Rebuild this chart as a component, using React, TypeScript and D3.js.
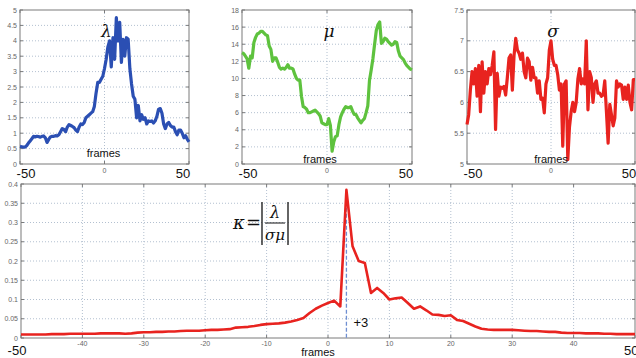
import { useRef, useEffect } from "react";
import * as d3 from "d3";

// frames -50..50
const frames = d3.range(-50, 51);

const lambdaValues = [
  0.57, 0.56, 0.55, 0.55, 0.6, 0.68, 0.75, 0.82, 0.9, 0.88, 0.9, 0.89, 0.87, 0.9, 0.91, 0.85, 0.7, 0.8, 0.88, 0.9,
  0.9, 0.92, 0.91, 0.95, 1.05, 1.15, 1.12, 1.05, 1.2, 1.28, 1.25, 1.22, 1.18, 1.1, 1.05, 1.2, 1.3, 1.28, 1.35, 1.5,
  1.55, 1.6, 1.65, 1.7, 1.87, 2.3, 2.65, 2.65, 2.75, 2.85, 3.1, 3.4, 3.8, 4.0, 3.15, 4.1, 3.4, 4.75, 4.0, 4.6,
  3.3, 4.05, 3.5, 4.1, 4.05, 3.1, 2.6, 2.2, 2.1, 1.5, 1.9, 1.4, 1.6, 1.45, 1.5, 1.3, 1.4, 1.38, 1.4, 1.33,
  1.4, 1.55, 1.78, 1.8, 1.65, 1.3, 1.15, 1.3, 1.35, 1.25, 1.2, 1.2, 1.05, 0.95, 1.1, 1.1, 1.0, 0.85, 0.92, 0.8, 0.72,
];

const muValues = [
  13.0, 12.9, 12.6, 12.3, 11.2, 12.6, 12.4, 14.2, 14.8, 15.2, 15.3, 15.5, 15.5, 15.3, 15.1, 15.0, 13.8, 13.4, 12.0, 12.4,
  12.4, 11.9, 11.3, 11.1, 11.2, 11.1, 11.3, 11.6, 11.2, 11.2, 11.1, 10.5, 10.0, 9.8, 9.8, 7.9, 6.7, 6.6, 6.4, 6.0,
  6.0, 6.1, 6.2, 6.3, 6.1, 5.9, 5.6, 4.8, 4.7, 4.6, 4.6, 5.3, 4.5, 1.5, 2.6, 3.2, 3.3, 4.6, 5.5, 6.0,
  6.4, 6.7, 6.6, 6.6, 6.7, 6.2, 5.8, 5.8, 5.4, 5.1, 4.8, 5.1, 5.3, 6.0, 6.8, 9.8, 11.0, 12.3, 14.0, 15.6,
  16.3, 16.6, 14.1, 14.3, 14.7, 14.6, 14.3, 14.1, 13.9, 14.0, 14.3, 14.2, 13.2, 12.6, 12.4, 12.2, 11.8, 11.5, 11.3, 11.1, 11.0,
];

const sigmaValues = [
  5.64, 5.8, 6.2, 6.5, 6.3, 6.55, 6.1, 6.6, 5.85, 6.66, 6.15, 6.5, 6.3, 6.55, 6.45, 6.6, 6.82, 5.56, 6.47, 6.1,
  6.25, 6.23, 6.26, 6.12, 6.4, 6.72, 6.77, 6.2, 6.76, 7.04, 6.85, 6.8, 6.7, 6.8, 6.5, 6.4, 6.72, 6.66, 6.36, 6.57,
  6.4, 6.4, 6.15, 6.35, 6.05, 6.07, 5.83, 6.3, 6.4, 6.85, 7.0, 6.7, 6.6, 6.6, 6.45, 6.2, 6.3, 5.29, 6.3, 6.35,
  5.07, 5.6, 5.85, 6.0, 5.85, 6.0, 6.38, 6.55, 6.3, 6.38, 6.3, 7.0, 5.88, 6.5, 6.4, 6.0, 6.3, 6.35, 6.15, 6.15,
  6.1, 6.12, 6.35, 5.85, 5.34, 5.97, 5.8, 5.62, 5.75, 6.35, 6.25, 6.3, 6.28, 6.05, 6.25, 6.05, 6.28, 6.0, 5.88, 6.37, 6.37,
];

const kappaValues = [
  0.009, 0.009, 0.009, 0.009, 0.009, 0.01, 0.01, 0.01, 0.011, 0.011, 0.011, 0.011, 0.011, 0.012, 0.012, 0.012, 0.012, 0.011, 0.012, 0.014,
  0.015, 0.015, 0.016, 0.016, 0.017, 0.017, 0.018, 0.019, 0.019, 0.019, 0.02, 0.021, 0.021, 0.022, 0.023, 0.027, 0.028, 0.029, 0.031, 0.034,
  0.036, 0.037, 0.038, 0.04, 0.043, 0.047, 0.052, 0.065, 0.076, 0.084, 0.091, 0.097, 0.082, 0.385, 0.238, 0.2, 0.195, 0.117, 0.13, 0.117,
  0.1, 0.103, 0.105, 0.091, 0.076, 0.082, 0.072, 0.061, 0.06, 0.057, 0.059, 0.047, 0.044, 0.037, 0.03, 0.024, 0.022, 0.021, 0.021, 0.021,
  0.021, 0.02, 0.019, 0.018, 0.018, 0.017, 0.016, 0.016, 0.014, 0.013, 0.013, 0.013, 0.012, 0.012, 0.012, 0.011, 0.011, 0.01, 0.01, 0.01, 0.01,
];

const peakFrame = 3;

const panels = [
  { values: lambdaValues, yDomain: [0, 5], yStep: 0.5, color: "#2b4fb3", symbol: "λ", left: 20, right: 189, top: 10, bottom: 164, framesDx: -1, framesY: 157 },
  { values: muValues, yDomain: [0, 18], yStep: 2, color: "#5ec23e", symbol: "μ", left: 242, right: 412, top: 10, bottom: 164, framesDx: -7, framesY: 163 },
  { values: sigmaValues, yDomain: [5, 7.5], yStep: 0.5, color: "#e8231f", symbol: "σ", left: 467, right: 635, top: 10, bottom: 164, framesDx: 0, framesY: 163 },
];

const W = 636;
const H = 358;

export default function App() {
  const svgRef = useRef<SVGSVGElement>(null);

  useEffect(() => {
    const svg = d3.select(svgRef.current);
    svg.selectAll("*").remove();

    svg.append("rect").attr("width", W).attr("height", H).attr("fill", "#fff");

    const gridColor = "#9fb0c4";
    const axisColor = "#7a7a7a";
    const tickColor = "#666";
    const sans = "Arial, 'Liberation Sans', sans-serif";
    const serif = "'DejaVu Serif', 'Liberation Serif', serif";

    const drawFrame = (
      x: d3.ScaleLinear<number, number>,
      y: d3.ScaleLinear<number, number>,
      xTicks: number[],
      yTicks: number[]
    ) => {
      const [l, r] = x.range();
      const [b, t] = y.range();
      const g = svg.append("g");
      // grid
      g.selectAll(".gx")
        .data(xTicks.filter(v => x(v) > l + 1 && x(v) < r - 1))
        .enter()
        .append("line")
        .attr("x1", d => x(d)).attr("x2", d => x(d))
        .attr("y1", t).attr("y2", b)
        .attr("stroke", gridColor).attr("stroke-width", 0.8)
        .attr("stroke-dasharray", "1,2");
      g.selectAll(".gy")
        .data(yTicks.filter(v => y(v) > t + 1 && y(v) < b - 1))
        .enter()
        .append("line")
        .attr("x1", l).attr("x2", r)
        .attr("y1", d => y(d)).attr("y2", d => y(d))
        .attr("stroke", gridColor).attr("stroke-width", 0.8)
        .attr("stroke-dasharray", "1,2");
      // box
      g.append("rect")
        .attr("x", l).attr("y", t).attr("width", r - l).attr("height", b - t)
        .attr("fill", "none").attr("stroke", axisColor).attr("stroke-width", 1);
      // inward ticks
      xTicks.forEach(v => {
        g.append("line").attr("x1", x(v)).attr("x2", x(v)).attr("y1", b).attr("y2", b - 3).attr("stroke", axisColor);
        g.append("line").attr("x1", x(v)).attr("x2", x(v)).attr("y1", t).attr("y2", t + 3).attr("stroke", axisColor);
      });
      yTicks.forEach(v => {
        g.append("line").attr("x1", l).attr("x2", l + 3).attr("y1", y(v)).attr("y2", y(v)).attr("stroke", axisColor);
        g.append("line").attr("x1", r).attr("x2", r - 3).attr("y1", y(v)).attr("y2", y(v)).attr("stroke", axisColor);
      });
      // y tick labels
      g.selectAll(".yl")
        .data(yTicks)
        .enter()
        .append("text")
        .attr("x", l - 3)
        .attr("y", d => y(d) + 2.5)
        .attr("text-anchor", "end")
        .style("font-family", sans)
        .style("font-size", "7px")
        .style("fill", tickColor)
        .text(d => String(d));
      return g;
    };

    // Top panels
    panels.forEach(p => {
      const x = d3.scaleLinear().domain([-50, 50]).range([p.left, p.right]);
      const y = d3.scaleLinear().domain(p.yDomain).range([p.bottom, p.top]);
      const yTicks = d3.range(p.yDomain[0], p.yDomain[1] + p.yStep / 2, p.yStep).map(v => +v.toFixed(2));
      const g = drawFrame(x, y, [-50, 0, 50], yTicks);

      g.append("text")
        .attr("x", x(0)).attr("y", p.bottom + 9)
        .attr("text-anchor", "middle")
        .style("font-family", sans).style("font-size", "7px").style("fill", tickColor)
        .text("0");

      g.append("path")
        .datum(p.values.map((v, i) => [frames[i], v] as [number, number]))
        .attr("fill", "none")
        .attr("stroke", p.color)
        .attr("stroke-width", 3.2)
        .attr("stroke-linejoin", "round")
        .attr("d", d3.line<[number, number]>().x(d => x(d[0])).y(d => y(d[1])));

      g.append("text")
        .attr("x", x(0) + 2).attr("y", p.top + 27)
        .attr("text-anchor", "middle")
        .style("font-family", serif)
        .style("font-style", "italic")
        .style("font-size", "17px")
        .style("fill", "#111")
        .text(p.symbol);

      g.append("text")
        .attr("x", x(0) + p.framesDx).attr("y", p.framesY)
        .attr("text-anchor", "middle")
        .style("font-family", sans).style("font-size", "11px").style("fill", "#111")
        .text("frames");

      g.append("text")
        .attr("x", x(-50) + 6).attr("y", p.bottom + 14)
        .attr("text-anchor", "middle")
        .style("font-family", sans).style("font-size", "13px").style("fill", "#111")
        .text("-50");
      g.append("text")
        .attr("x", x(50) - 6).attr("y", p.bottom + 14)
        .attr("text-anchor", "middle")
        .style("font-family", sans).style("font-size", "13px").style("fill", "#111")
        .text("50");
    });

    // Bottom panel
    const bx = d3.scaleLinear().domain([-50, 50]).range([21, 635]);
    const by = d3.scaleLinear().domain([0, 0.4]).range([338, 184]);
    const bxTicks = d3.range(-50, 51, 10);
    const byTicks = d3.range(0, 0.401, 0.05).map(v => +v.toFixed(2));
    const bg = drawFrame(bx, by, bxTicks, byTicks);

    bg.selectAll(".xl")
      .data(bxTicks.filter(v => v > -50 && v < 50))
      .enter()
      .append("text")
      .attr("x", d => bx(d)).attr("y", 346)
      .attr("text-anchor", "middle")
      .style("font-family", sans).style("font-size", "7px").style("fill", tickColor)
      .text(d => String(d));

    bg.append("line")
      .attr("x1", bx(peakFrame)).attr("x2", bx(peakFrame))
      .attr("y1", by(kappaValues[frames.indexOf(peakFrame)])).attr("y2", by(0))
      .attr("stroke", "#6f8fd2").attr("stroke-width", 1.3)
      .attr("stroke-dasharray", "4,2");

    bg.append("path")
      .datum(kappaValues.map((v, i) => [frames[i], v] as [number, number]))
      .attr("fill", "none")
      .attr("stroke", "#e8231f")
      .attr("stroke-width", 2.6)
      .attr("stroke-linejoin", "round")
      .attr("d", d3.line<[number, number]>().x(d => bx(d[0])).y(d => by(d[1])));

    bg.append("text")
      .attr("x", bx(peakFrame) + 7).attr("y", 327)
      .style("font-family", sans).style("font-size", "13px").style("fill", "#111")
      .text("+3");

    bg.append("text")
      .attr("x", 318).attr("y", 356)
      .attr("text-anchor", "middle")
      .style("font-family", sans).style("font-size", "11px").style("fill", "#111")
      .text("frames");
    bg.append("text")
      .attr("x", 17).attr("y", 355)
      .attr("text-anchor", "middle")
      .style("font-family", sans).style("font-size", "13px").style("fill", "#111")
      .text("-50");
    bg.append("text")
      .attr("x", 624).attr("y", 355)
      .attr("text-anchor", "start")
      .style("font-family", sans).style("font-size", "13px").style("fill", "#111")
      .text("50");

    // formula kappa = |lambda / (sigma mu)|
    const f = bg.append("g");
    f.append("text")
      .attr("x", 233).attr("y", 229)
      .style("font-family", serif).style("font-style", "italic").style("font-size", "18px").style("fill", "#111")
      .text("κ");
    f.append("text")
      .attr("x", 246).attr("y", 229)
      .style("font-family", serif).style("font-size", "18px").style("fill", "#111")
      .text("=");
    f.append("line").attr("x1", 262).attr("x2", 262).attr("y1", 202).attr("y2", 245).attr("stroke", "#111").attr("stroke-width", 1.3);
    f.append("line").attr("x1", 288).attr("x2", 288).attr("y1", 202).attr("y2", 245).attr("stroke", "#111").attr("stroke-width", 1.3);
    f.append("line").attr("x1", 265).attr("x2", 285).attr("y1", 223).attr("y2", 223).attr("stroke", "#111").attr("stroke-width", 1);
    f.append("text")
      .attr("x", 275).attr("y", 218)
      .attr("text-anchor", "middle")
      .style("font-family", serif).style("font-style", "italic").style("font-size", "16px").style("fill", "#111")
      .text("λ");
    f.append("text")
      .attr("x", 275).attr("y", 240)
      .attr("text-anchor", "middle")
      .style("font-family", serif).style("font-style", "italic").style("font-size", "15px").style("fill", "#111")
      .text("σμ");
  }, []);

  return (
    <svg
      ref={svgRef}
      width={W}
      height={H}
      style={{ position: "absolute", left: 0, top: 0, display: "block" }}
    />
  );
}
